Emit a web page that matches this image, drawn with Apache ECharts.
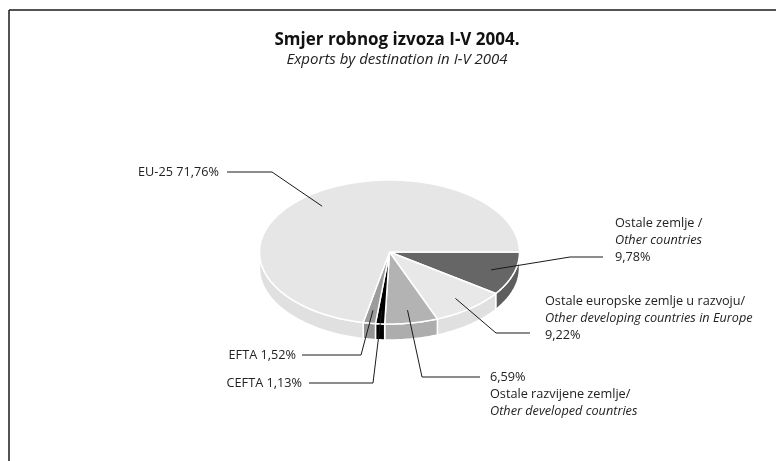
<!DOCTYPE html>
<html>
<head>
<meta charset="utf-8">
<script src="https://cdn.jsdelivr.net/npm/echarts@6/dist/echarts.min.js"></script>
<style>
html, body { margin: 0; padding: 0; background: #fff; }
#main { width: 776px; height: 461px; }
</style>
</head>
<body>
<div id="main"></div>
<script>
// podaci
const names = ['Ostale zemlje /', 'Ostale europske zemlje u razvoju/', 'Ostale razvijene zemlje/', 'CEFTA', 'EFTA', 'EU-25'];
const namesEn = ['Other countries', 'Other developing countries in Europe', 'Other developed countries', '', '', ''];
const shares = [9.78, 9.22, 6.59, 1.13, 1.52, 71.76];

// izgled
const colors = ['#666666', '#e8e8e8', '#b3b3b3', '#000000', '#9c9c9c', '#e6e6e6'];
const sideColors = ['#5e5e5e', '#e0e0e0', '#adadad', '#000000', '#959595', '#e0e0e0'];
const cx = 389.5, cy = 252, rx = 130, ry = 72, depth = 16;
const fs = 12.7;
// leader: elbow, end, text anchor, align
const leaders = [
  { elbow: [570, 257], end: [603, 257], tx: 615, ty: 214.5, align: 'left' },
  { elbow: [496, 333], end: [530, 333], tx: 545, ty: 292.5, align: 'left' },
  { elbow: [422, 377], end: [480, 377], tx: 490, ty: 368.5, align: 'left' },
  { elbow: [373, 383], end: [309, 383], tx: 302, ty: 374.5, align: 'right' },
  { elbow: [361, 355], end: [302, 355], tx: 296, ty: 346.5, align: 'right' },
  { elbow: [272, 172], end: [227, 172], tx: 219, ty: 163.5, align: 'right' }
];

const total = shares.reduce((a, b) => a + b, 0);
const starts = [];
let acc = 0;
shares.forEach(v => { starts.push(acc / total * 360); acc += v; });

function pt(deg, dy) {
  const r = deg * Math.PI / 180;
  return [cx + rx * Math.cos(r), cy + ry * Math.sin(r) + (dy || 0)];
}
function pct(v) { return v.toFixed(2).replace('.', ',') + '%'; }

function labelText(i) {
  const p = pct(shares[i]);
  if (i === 0 || i === 1) return names[i] + '\n{i|' + namesEn[i] + '}\n' + p;
  if (i === 2) return p + '\n' + names[i] + '\n{i|' + namesEn[i] + '}';
  return names[i] + ' ' + p;
}

// bočne stranice (samo prednja polovica)
function renderSide(params, api) {
  const i = params.dataIndex;
  const a0 = Math.max(starts[i], 0);
  const a1 = Math.min(starts[i] + shares[i] / total * 360, 180);
  if (a1 <= a0) return null;
  const top = [], bottom = [];
  for (let a = a0; a <= a1; a += 1) { top.push(pt(a)); bottom.push(pt(a, depth)); }
  top.push(pt(a1)); bottom.push(pt(a1, depth));
  const points = top.concat(bottom.reverse());
  return {
    type: 'polygon',
    shape: { points: points },
    style: { fill: sideColors[i], stroke: '#ffffff', lineWidth: 1.5 }
  };
}

// gornja ploha + oznake
function renderTop(params, api) {
  const i = params.dataIndex;
  const a0 = starts[i];
  const a1 = a0 + shares[i] / total * 360;
  const points = [[cx, cy]];
  for (let a = a0; a <= a1; a += 1) points.push(pt(a));
  points.push(pt(a1));
  const mid = (a0 + a1) / 2 * Math.PI / 180;
  const anchor = [cx + 0.82 * rx * Math.cos(mid), cy + 0.82 * ry * Math.sin(mid)];
  const L = leaders[i];
  return {
    type: 'group',
    children: [
      {
        type: 'polygon',
        shape: { points: points },
        style: { fill: colors[i], stroke: '#ffffff', lineWidth: 1.5 }
      },
      {
        type: 'polyline',
        z2: 10,
        shape: { points: [anchor, L.elbow, L.end] },
        style: { fill: null, stroke: '#1a1a1a', lineWidth: 1 }
      },
      {
        type: 'text',
        z2: 10,
        style: {
          x: L.tx, y: L.ty,
          text: labelText(i),
          align: L.align,
          verticalAlign: 'top',
          fill: '#222222',
          fontFamily: 'Open Sans',
          fontSize: fs,
          lineHeight: 17,
          rich: { i: { fontStyle: 'italic', fontFamily: 'Open Sans', fontSize: fs, lineHeight: 17, fill: '#222222' } }
        }
      }
    ]
  };
}

const chart = echarts.init(document.getElementById('main'), null, { renderer: 'canvas' });
chart.setOption({
  backgroundColor: '#ffffff',
  animation: false,
  title: {
    text: 'Smjer robnog izvoza I-V 2004.',
    subtext: 'Exports by destination in I-V 2004',
    left: 392,
    textAlign: 'center',
    top: 27,
    itemGap: 3,
    textStyle: { fontFamily: 'Open Sans', fontSize: 17, fontWeight: 'bold', color: '#111111' },
    subtextStyle: { fontFamily: 'Open Sans', fontSize: 15, fontStyle: 'italic', color: '#222222' }
  },
  graphic: [
    { type: 'line', shape: { x1: 9, y1: 10, x2: 776, y2: 10 }, style: { stroke: '#1a1a1a', lineWidth: 1.5 }, silent: true },
    { type: 'line', shape: { x1: 9, y1: 10, x2: 9, y2: 461 }, style: { stroke: '#1a1a1a', lineWidth: 1.5 }, silent: true }
  ],
  series: [
    { type: 'custom', coordinateSystem: 'none', renderItem: renderSide, data: shares, silent: true, z: 1 },
    { type: 'custom', coordinateSystem: 'none', renderItem: renderTop, data: shares, silent: true, z: 2 }
  ]
});
</script>
</body>
</html>
